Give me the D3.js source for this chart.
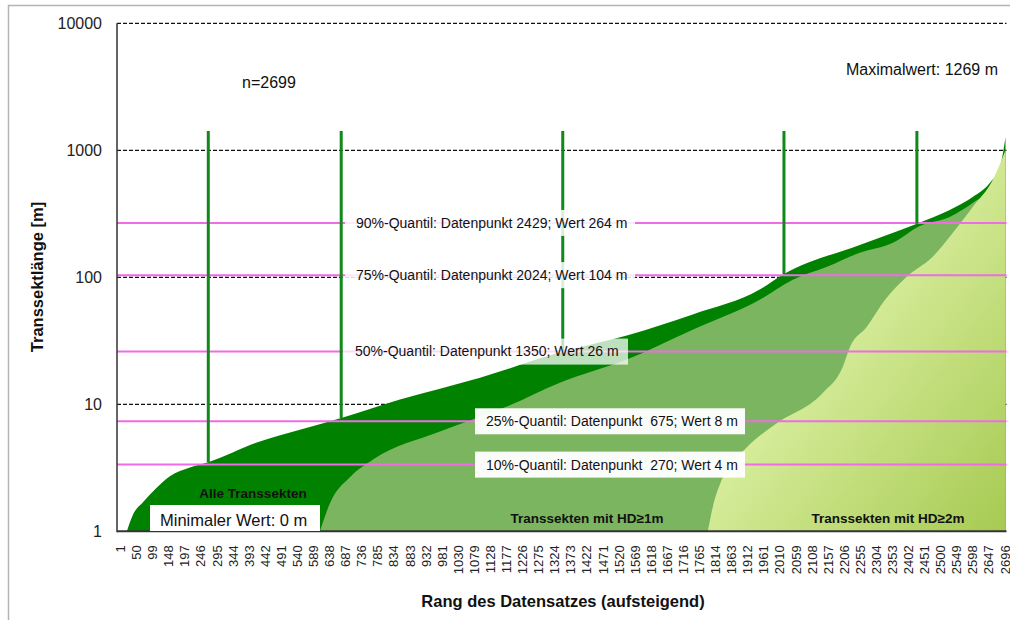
<!DOCTYPE html>
<html>
<head>
<meta charset="utf-8">
<script src="https://cdn.jsdelivr.net/npm/d3@7"></script>
<style>
  body { margin: 0; background: #fff; }
  svg { font-family: "Liberation Sans", Arial, sans-serif; }
</style>
</head>
<body>
<div id="chart"></div>
<script>
// chart size
const WIDTH = 1010;
const HEIGHT = 620;

// data (rank in sorted order, length in m)
const allRanks  = [22, 41, 71, 108, 153, 214, 270, 418, 549, 675, 854, 1098, 1350, 1548, 1746, 1950, 2024, 2255, 2429, 2529, 2599, 2651, 2682, 2699];
const allValues = [1, 1.36, 1.69, 2.14, 2.71, 3.18, 3.5, 5.0, 6.3, 7.8, 10.9, 16.2, 26, 35, 51, 80, 106, 180, 264, 339, 429, 553, 738, 1269];

const hd1Ranks  = [610, 641, 702, 772, 976, 1180, 1341, 1545, 1746, 1950, 2051, 2155, 2255, 2356, 2438, 2529, 2599, 2651, 2682, 2699];
const hd1Values = [1, 1.67, 2.68, 3.68, 6.1, 9.6, 14.8, 22.5, 38.7, 66.6, 95.6, 121, 156, 187, 254, 299, 385, 487, 662, 1000];

const hd2Ranks  = [1792, 1807, 1838, 1911, 2002, 2142, 2203, 2225, 2276, 2331, 2398, 2477, 2538, 2599, 2660, 2699];
const hd2Values = [1, 1.55, 2.68, 4.6, 7.1, 12.3, 19.7, 28.3, 40.6, 66, 101, 145, 223, 358, 584, 1000];

// quantiles
const quantilePercents = [10, 25, 50, 75, 90];
const quantileRanks    = [270, 675, 1350, 2024, 2429];
const quantileLabelValues = [4, 8, 26, 104, 264];
const quantileLineValues  = [3.35, 7.35, 26, 104, 268];

// ticks
const yTicks = [1, 10, 100, 1000, 10000];
const xTickLabels = d3.range(1, 2697, 49);

const svg = d3.select("#chart")
  .append("svg")
    .attr("width", WIDTH)
    .attr("height", HEIGHT);

// outer frame
svg.append("rect")
    .attr("x", 8.5).attr("y", 5.5)
    .attr("width", WIDTH).attr("height", HEIGHT)
    .attr("fill", "none")
    .attr("stroke", "#b4b4b4")
    .attr("stroke-width", 1.5);

// scales
const x = d3.scaleLinear().domain([1, 2699]).range([120, 1005.5]);
const y = d3.scaleLog().domain([1, 10000]).range([531.3, 23.3]);
const LEFT = 117, RIGHT = 1006.5;

// dashed gridlines
svg.selectAll(".grid")
  .data(yTicks.slice(1))
  .enter()
  .append("line")
    .attr("x1", LEFT).attr("x2", RIGHT)
    .attr("y1", d => y(d)).attr("y2", d => y(d))
    .attr("stroke", "#111")
    .attr("stroke-width", 1.2)
    .attr("stroke-dasharray", "4,2");

// gradient for the HD>=2m area
const defs = svg.append("defs");
const grad = defs.append("linearGradient")
    .attr("id", "lightGrad")
    .attr("x1", 0).attr("y1", 0).attr("x2", 1).attr("y2", 1);
grad.append("stop").attr("offset", 0).attr("stop-color", "#f6fdd6");
grad.append("stop").attr("offset", 0.45).attr("stop-color", "#d6ec9a");
grad.append("stop").attr("offset", 1).attr("stop-color", "#a6ca52");

// areas
const area = d3.area()
    .x(d => x(d[0]))
    .y0(y(1))
    .y1(d => y(d[1]))
    .curve(d3.curveMonotoneX);

const series = [
  {ranks: allRanks, values: allValues, fill: "#008200"},
  {ranks: hd1Ranks, values: hd1Values, fill: "#7bb560"},
  {ranks: hd2Ranks, values: hd2Values, fill: "url(#lightGrad)"}
];

series.forEach(s => {
  svg.append("path")
      .datum(d3.zip(s.ranks, s.values))
      .attr("d", area)
      .attr("fill", s.fill);
});

// quantile lines (horizontal)
svg.selectAll(".qline")
  .data(quantileLineValues)
  .enter()
  .append("line")
    .attr("x1", LEFT).attr("x2", RIGHT)
    .attr("y1", d => y(d)).attr("y2", d => y(d))
    .attr("stroke", "#f06be6")
    .attr("stroke-width", 2);

// quantile markers (vertical)
svg.selectAll(".vline")
  .data(quantileRanks)
  .enter()
  .append("line")
    .attr("x1", d => x(d)).attr("x2", d => x(d))
    .attr("y1", y(1420))
    .attr("y2", d => y(allValues[allRanks.indexOf(d)]))
    .attr("stroke", "#11881a")
    .attr("stroke-width", 3);

// axes
const yAxis = svg.append("g")
    .attr("transform", `translate(${LEFT},0)`)
    .call(d3.axisLeft(y).tickValues(yTicks).tickFormat(d3.format("d")).tickSize(0).tickPadding(15));
yAxis.select(".domain").remove();
yAxis.selectAll("text")
    .attr("font-size", 16)
    .attr("fill", "#222")
    .attr("font-family", "Liberation Sans, Arial, sans-serif");

const xAxis = svg.append("g")
    .attr("transform", `translate(0,${y(1)})`)
    .call(d3.axisBottom(x).tickValues(xTickLabels).tickFormat(d3.format("d")).tickSize(0));
xAxis.select(".domain").remove();
xAxis.selectAll("text")
    .attr("transform", "rotate(-90)")
    .attr("x", -14)
    .attr("y", 0)
    .attr("dy", "0.35em")
    .attr("text-anchor", "end")
    .attr("font-size", 13)
    .attr("fill", "#222")
    .attr("font-family", "Liberation Sans, Arial, sans-serif");

svg.append("line")
    .attr("x1", LEFT).attr("x2", LEFT)
    .attr("y1", y(10000)).attr("y2", y(1) + 1)
    .attr("stroke", "#333").attr("stroke-width", 1.5);
svg.append("line")
    .attr("x1", LEFT).attr("x2", RIGHT)
    .attr("y1", y(1)).attr("y2", y(1))
    .attr("stroke", "#333").attr("stroke-width", 2);

// quantile labels
const boxLayout = [
  {bx: 475, bw: 270, tx: 486, op: 0.96},
  {bx: 475, bw: 270, tx: 486, op: 0.96},
  {bx: 343, bw: 285, tx: 355, op: 0.75},
  {bx: 345, bw: 290, tx: 356, op: 0.85},
  {bx: 345, bw: 290, tx: 356, op: 0.85}
];

quantilePercents.forEach((p, i) => {
  const cy = y(quantileLineValues[i]);
  const b = boxLayout[i];
  svg.append("rect")
      .attr("x", b.bx).attr("y", cy - 13)
      .attr("width", b.bw).attr("height", 26)
      .attr("fill", "#fff")
      .attr("fill-opacity", b.op);
  svg.append("text")
      .attr("x", b.tx).attr("y", cy)
      .attr("dy", "0.35em")
      .attr("font-size", 14)
      .attr("fill", "#111")
      .style("white-space", "pre")
      .text(`${p}%-Quantil: Datenpunkt ${String(quantileRanks[i]).padStart(4, " ")}; Wert ${quantileLabelValues[i]} m`);
});

// annotations
svg.append("text")
    .attr("x", 242).attr("y", 88)
    .attr("font-size", 16).attr("fill", "#111")
    .text("n=2699");

svg.append("text")
    .attr("x", 998).attr("y", 75)
    .attr("text-anchor", "end")
    .attr("font-size", 16).attr("fill", "#111")
    .text("Maximalwert: 1269 m");

svg.append("rect")
    .attr("x", 150).attr("y", 505)
    .attr("width", 170).attr("height", 26)
    .attr("fill", "#fff");
svg.append("text")
    .attr("x", 160).attr("y", 526)
    .attr("font-size", 16.5).attr("fill", "#111")
    .text("Minimaler Wert: 0 m");

const seriesNames = ["Alle Transsekten", "Transsekten mit HD≥1m", "Transsekten mit HD≥2m"];
const namePos = [[253, 498], [587, 523], [888, 523]];
seriesNames.forEach((n, i) => {
  svg.append("text")
      .attr("x", namePos[i][0]).attr("y", namePos[i][1])
      .attr("text-anchor", "middle")
      .attr("font-size", 13.5).attr("font-weight", "bold").attr("fill", "#111")
      .text(n);
});

// axis titles
svg.append("text")
    .attr("transform", "translate(43,277) rotate(-90)")
    .attr("text-anchor", "middle")
    .attr("font-size", 16.5).attr("font-weight", "bold").attr("fill", "#111")
    .text("Transsektlänge [m]");

svg.append("text")
    .attr("x", 563).attr("y", 607)
    .attr("text-anchor", "middle")
    .attr("font-size", 16.5).attr("font-weight", "bold").attr("fill", "#111")
    .text("Rang des Datensatzes (aufsteigend)");
</script>
</body>
</html>
